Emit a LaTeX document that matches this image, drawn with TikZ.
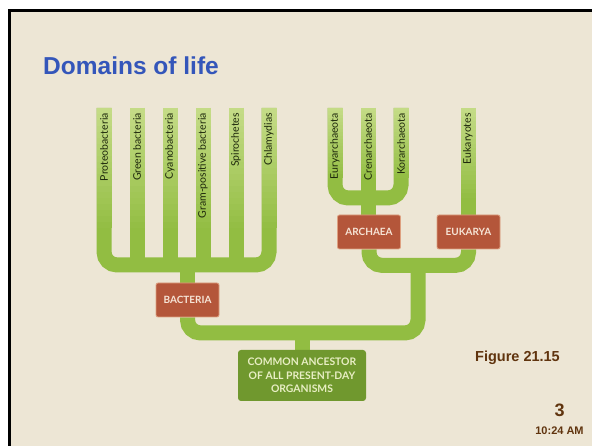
\documentclass[tikz,border=0pt]{standalone}
\usepackage{fontspec}
\setmainfont{Liberation Sans}
\newfontfamily\treefont{Lato}
\usetikzlibrary{positioning}

\pgfdeclarelayer{back}
\pgfdeclarelayer{tree}
\pgfsetlayers{back,tree,main}

\definecolor{slidebg}{RGB}{237,230,213}
\definecolor{titleblue}{RGB}{52,86,186}
\definecolor{notebrown}{RGB}{96,52,14}
\definecolor{treegreen}{RGB}{146,189,66}
\definecolor{leaftop}{RGB}{196,219,134}
\definecolor{leaftext}{RGB}{30,40,12}
\definecolor{boxred}{RGB}{180,86,58}
\definecolor{boxedge}{RGB}{222,160,128}
\definecolor{boxtext}{RGB}{246,228,214}
\definecolor{ancgreen}{RGB}{112,152,46}
\definecolor{anctext}{RGB}{232,238,196}

\tikzset{
  branch/.style={draw=treegreen, line width=15pt, rounded corners=13pt},
  leaflabel/.style={rotate=90, anchor=east, inner sep=0pt, text=leaftext,
    font=\treefont\fontsize{10.5}{11}\selectfont},
  domainbox/.style={fill=boxred, draw=boxedge, line width=0.8pt, rounded corners=2pt,
    minimum width=63pt, minimum height=34pt, inner sep=0pt, text=boxtext,
    font=\treefont\bfseries\fontsize{10}{10}\selectfont},
  ancestorbox/.style={fill=ancgreen, rounded corners=3pt, minimum width=128pt,
    minimum height=51pt, inner sep=0pt, align=center, text=anctext,
    font=\treefont\bfseries\fontsize{10.4}{13.5}\selectfont},
  slidenote/.style={inner sep=0pt, text=notebrown}
}

\begin{document}
\begin{tikzpicture}[x=1pt,y=-1pt]
  \useasboundingbox (0,0) rectangle (592,446);

  % slide
  \begin{pgfonlayer}{back}
    \fill[white] (0,0) rectangle (592,446);
    \fill[slidebg] (9.5,10.5) rectangle (592,446);
    \draw[line width=2.6pt] (9.5,446) -- (9.5,10.5) -- (592,10.5);
  \end{pgfonlayer}

  \node[inner sep=0pt, anchor=base west, text=titleblue,
    font=\bfseries\fontsize{24.5}{26}\selectfont] (title) at (43,74.5) {Domains of life};

  % leaves
  \foreach \x/\nm/\txt in {104/pro/Proteobacteria, 137/grn/Green bacteria,
      170/cya/Cyanobacteria, 203/grm/Gram-positive bacteria,
      236/spi/Spirochetes, 269/chl/Chlamydias,
      335/eur/Euryarchaeota, 368/cre/Crenarchaeota, 401/kor/Korarchaeota,
      468/eky/Eukaryotes}{
    \coordinate (\nm) at (\x,108);
    \node[leaflabel] (\nm-lab) at (\x,113) {\txt};
  }

  % domains
  \node[domainbox] (bact) at (187.5,300) {BACTERIA};
  \node[domainbox] (arch) at (369,232) {ARCHAEA};
  \node[domainbox] (euk) at (468.5,232) {EUKARYA};
  \node[ancestorbox] (anc) at (302,375.5) {COMMON ANCESTOR\\OF ALL PRESENT-DAY\\ORGANISMS};

  % tree
  \begin{pgfonlayer}{tree}
    \draw[branch] (pro) -- (104,265) -- (269,265) -- (chl);
    \foreach \nm in {grn,cya,grm,spi}
      \draw[branch] (\nm) -- ++(0,157);
    \draw[branch] (bact.north) -- ++(0,-18);
    \draw[branch] (eur) -- (335,198) -- (401,198) -- (kor);
    \draw[branch] (cre) -- (cre |- arch.north);
    \draw[branch] (eky) -- (eky |- euk.north);
    \draw[branch] (arch.south) -- ++(0,16) -| (euk.south);
    \draw[branch] (bact.south) |- (418,333) -- (418,265);
    \draw[branch] (anc.north) -- ++(0,-17);
    % paler tips
    \foreach \x/\len in {104/120,137/120,170/120,203/120,236/120,269/120,
        335/70,368/70,401/70,468/90}
      \foreach \i in {0,...,19}{
        \pgfmathtruncatemacro\p{\i*5}
        \fill[treegreen!\p!leaftop] (\x-7.5,108+\i*\len/20) rectangle (\x+7.5,108+\i*\len/20+\len/20+0.5);
      }
  \end{pgfonlayer}

  % notes
  \node[slidenote, anchor=base east, font=\bfseries\fontsize{14.5}{15}\selectfont] (fig) at (560,362) {Figure 21.15};
  \node[slidenote, anchor=base, font=\bfseries\fontsize{18}{18}\selectfont] (page) at (559.5,417) {3};
  \node[slidenote, anchor=base, font=\bfseries\fontsize{11}{11}\selectfont] (time) at (559.5,434) {10:24 AM};
\end{tikzpicture}
\end{document}
